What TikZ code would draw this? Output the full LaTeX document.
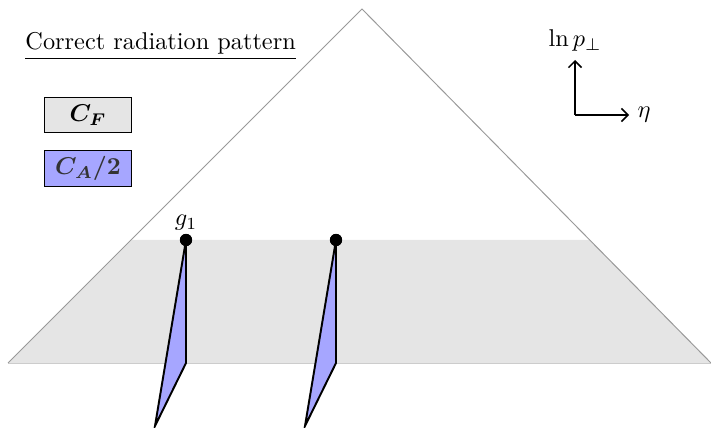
\documentclass[tikz,border=0pt]{standalone}
\usepackage{amsmath}
\usepackage{bm}
\usetikzlibrary{arrows.meta}

\begin{document}
\begin{tikzpicture}[x=0.4115pt, y=-0.4115pt, >=Straight Barb,
  edge/.style={draw=gray!80, line width=0.4pt},
  colourbox/.style={draw, minimum width=36pt, minimum height=14.5pt, inner sep=0pt},
  gluon/.style={fill=blue!35, draw=black, thick, line join=miter},
  emitter/.style={circle, fill, minimum size=5pt, inner sep=0pt}]

\useasboundingbox (0,0) rectangle (711,428);

% ---- the phase-space triangle ----------------------------------------------------
\coordinate (apex)  at (362,9);
\coordinate (left)  at (8,363);
\coordinate (right) at (711,363);
\fill[black!10] (132,240) -- (589.7,240) -- (right) -- (left) -- cycle;
\draw[black!20] (left) -- (right);
\draw[edge] (left) -- (apex) -- (right);

% ---- legend ----------------------------------------------------------------------
\node[anchor=base west, inner sep=0pt] (title) at (25,50) {\underline{Correct radiation pattern}};
\node[colourbox, fill=black!10] (cf) at (88,115) {$\bm{C_F}$};
\node[colourbox, fill=blue!35, text=black!80] (ca) at (88,168.5) {$\bm{C_A/2}$};

% ---- axes ------------------------------------------------------------------------
\coordinate (origin) at (575,115);
\node[anchor=south] (lnpt) at (575,60) {$\ln p_\perp$};
\node[anchor=west]  (eta)  at (629,115) {$\eta$};
\draw[->, semithick] (origin) -- (lnpt.south);
\draw[->, semithick] (origin) -- (eta.west);

% ---- the two emitters --------------------------------------------------------------
\node[emitter, label={[inner sep=1pt]above:$g_1$}] (g1) at (186,240) {};
\node[emitter] (g2) at (336,240) {};

\draw[gluon] (g1.center) -- (186,363) -- (155,426) -- cycle;
\draw[gluon] (g2.center) -- (336,363) -- (305,426) -- cycle;
\node[emitter] at (g1) {};
\node[emitter] at (g2) {};

\end{tikzpicture}
\end{document}
